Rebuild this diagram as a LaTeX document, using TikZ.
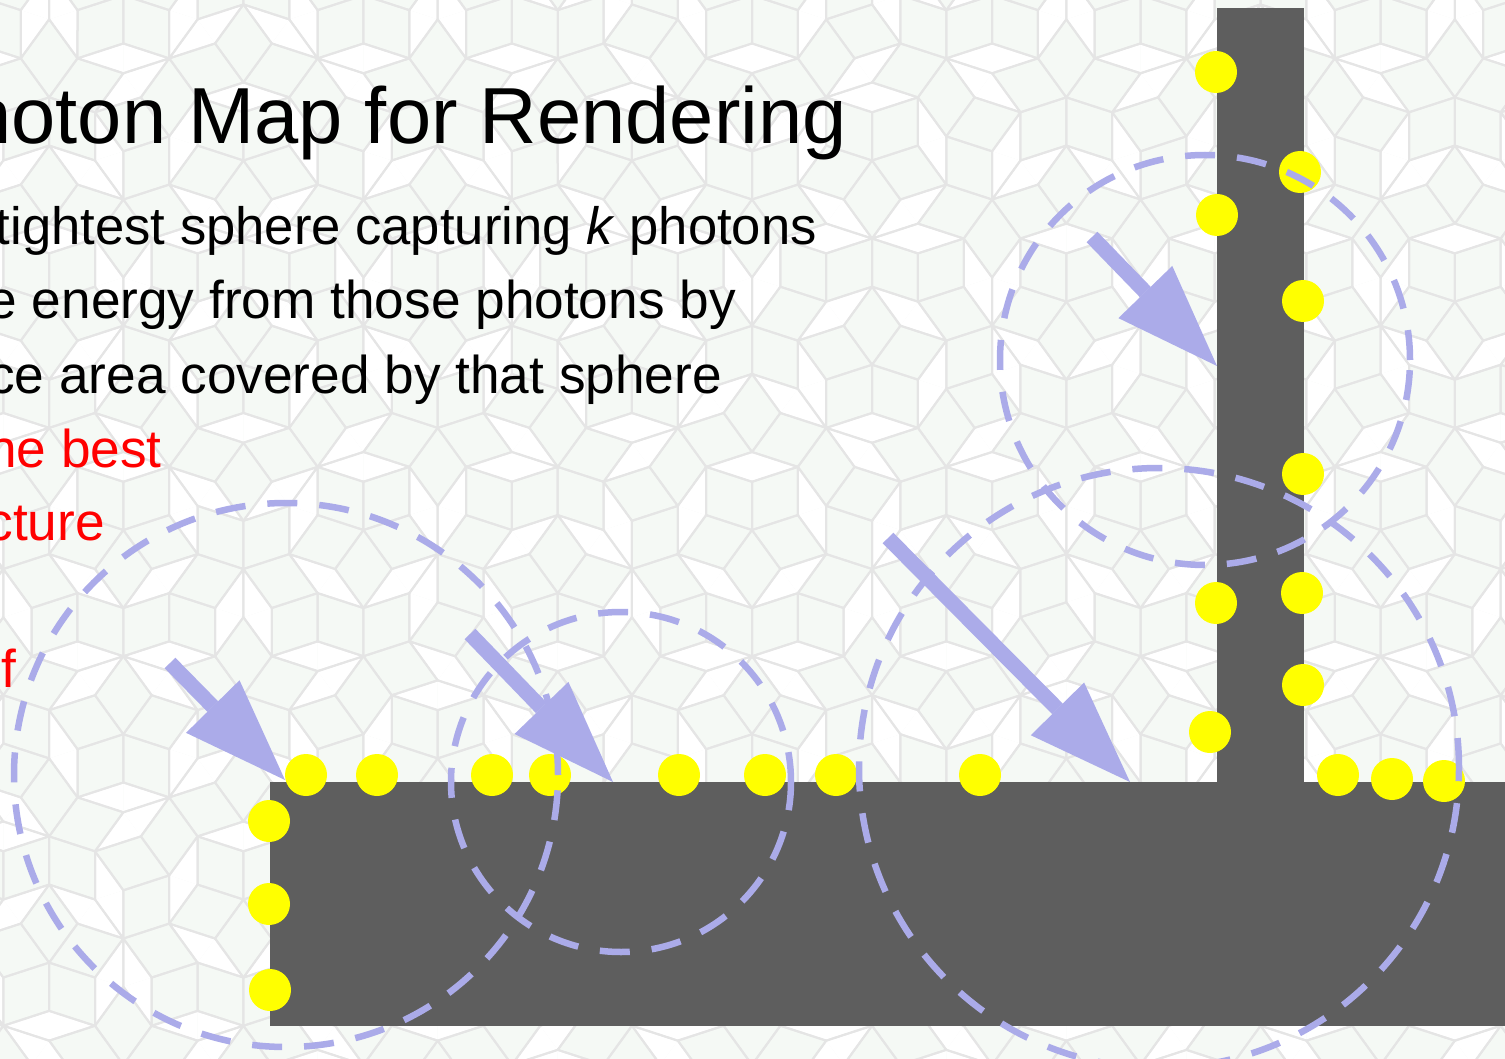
\documentclass[tikz,border=0pt]{standalone}
\usepackage{fontspec}
\setmainfont{Liberation Sans}
\usetikzlibrary{arrows.meta}
\definecolor{bgc}{RGB}{245,249,245}
\definecolor{tilec}{RGB}{229,229,229}
\definecolor{barc}{RGB}{94,94,94}
\definecolor{lav}{RGB}{171,171,233}
\definecolor{dotc}{RGB}{255,255,0}
\definecolor{redc}{RGB}{255,0,0}
\tikzset{
  dot/.style={circle, fill=dotc, minimum size=42pt, inner sep=0pt, draw=none},
  ring/.style={circle, draw=lav, line width=6.5pt, dash pattern=on 30pt off 22pt, inner sep=0pt, fill=none},
  photon/.style={draw=lav, line width=15pt, -{Triangle[length=103pt,width=75pt,line width=0pt]}},
  bartile/.style={fill=barc},
  tileline/.style={draw=tilec, line width=2pt, line join=round},
  thinfill/.style={fill=white},
  titletext/.style={font=\fontsize{79.5}{92}\selectfont, inner sep=0pt, anchor=base east, text=black},
  bodytext/.style={font=\fontsize{53.2}{64}\selectfont, inner sep=0pt, anchor=base east, text=black},
  redtext/.style={bodytext, text=redc}
}
% Penrose (P3) background via Robinson triangles
\newif\ifpenfill
\def\pgr{0.6180339887}
\def\ptri#1#2#3#4#5#6#7#8{%
 \begingroup
 \pgfmathparse{((max(#3,#5,#7))<-10)||((min(#3,#5,#7))>1515)||((max(#4,#6,#8))<-10)||((min(#4,#6,#8))>1069)}%
 \ifdim\pgfmathresult pt>0.5pt\relax\else
  \ifnum#2=0\relax
   \ifpenfill
    \ifnum#1=0\relax \fill[thinfill] (#3,#4)--(#5,#6)--(#7,#8)--cycle;\fi
   \else
    \draw[tileline] (#7,#8)--(#3,#4)--(#5,#6);
   \fi
  \else
   \ifnum#1=0\relax
    \pgfmathsetmacro\Px{(#3)+((#5)-(#3))*\pgr}%
    \pgfmathsetmacro\Py{(#4)+((#6)-(#4))*\pgr}%
    \edef\nxt{\noexpand\ptri{0}{\the\numexpr#2-1\relax}{#7}{#8}{\Px}{\Py}{#5}{#6}%
              \noexpand\ptri{1}{\the\numexpr#2-1\relax}{\Px}{\Py}{#7}{#8}{#3}{#4}}%
   \else
    \pgfmathsetmacro\Qx{(#5)+((#3)-(#5))*\pgr}%
    \pgfmathsetmacro\Qy{(#6)+((#4)-(#6))*\pgr}%
    \pgfmathsetmacro\Rx{(#5)+((#7)-(#5))*\pgr}%
    \pgfmathsetmacro\Ry{(#6)+((#8)-(#6))*\pgr}%
    \edef\nxt{\noexpand\ptri{1}{\the\numexpr#2-1\relax}{\Rx}{\Ry}{#7}{#8}{#3}{#4}%
              \noexpand\ptri{1}{\the\numexpr#2-1\relax}{\Qx}{\Qy}{\Rx}{\Ry}{#5}{#6}%
              \noexpand\ptri{0}{\the\numexpr#2-1\relax}{\Rx}{\Ry}{\Qx}{\Qy}{#3}{#4}}%
   \fi
   \nxt
  \fi
 \fi
 \endgroup}
\def\penwheel{%
 \foreach \k in {0,...,9}{%
   \pgfmathsetmacro\bx{752+1400*cos((2*\k-1)*18)}%
   \pgfmathsetmacro\by{530+1400*sin((2*\k-1)*18)}%
   \pgfmathsetmacro\cxx{752+1400*cos((2*\k+1)*18)}%
   \pgfmathsetmacro\cyy{530+1400*sin((2*\k+1)*18)}%
   \ifodd\k
     \edef\nxt{\noexpand\ptri{0}{7}{752}{530}{\bx}{\by}{\cxx}{\cyy}}%
   \else
     \edef\nxt{\noexpand\ptri{0}{7}{752}{530}{\cxx}{\cyy}{\bx}{\by}}%
   \fi
   \nxt
 }}
\begin{document}
\begin{tikzpicture}[x=1pt,y=-1pt]
\useasboundingbox (0,0) rectangle (1505,1059);
\clip (0,0) rectangle (1505,1059);
\fill[bgc] (0,0) rectangle (1505,1059);
\penfilltrue\penwheel
\penfillfalse\penwheel
% surfaces
\fill[bartile] (270,782) rectangle (1506,1026);
\fill[bartile] (1217,8) rectangle (1304,783);
% photons
\foreach \xx/\yy [count=\i] in {306/775,377/775,492/775,550/775,679/775,765/775,836/775,980/775,
  269/821,269/904,270/990,
  1216/72,1217/215,1216/603,1210/732,
  1300/172,1303/301,1303/474,1302/593,1303/685,
  1338/775,1392/779,1444/781}{
  \node[dot] (d\i) at (\xx,\yy) {};
}
% arrows
\coordinate (a1s) at (170,663); \coordinate (a1e) at (285,780);
\coordinate (a2s) at (470,634); \coordinate (a2e) at (613,782);
\coordinate (a3s) at (888,538); \coordinate (a3e) at (1130,782);
\coordinate (a4s) at (1092,237); \coordinate (a4e) at (1217,366);
\draw[photon] (a1s) -- (a1e);
\draw[photon] (a2s) -- (a2e);
\draw[photon] (a3s) -- (a3e);
\draw[photon] (a4s) -- (a4e);
% spheres
\node[ring, minimum size=544pt] (s1) at (286,775) {};
\node[ring, minimum size=340pt] (s2) at (621,782) {};
\node[ring, minimum size=600pt] (s3) at (1159,768) {};
\node[ring, minimum size=410pt] (s4) at (1205,360) {};
% text
\node[titletext] (title) at (847,144) {hoton Map for Rendering};
\node[bodytext, font=\fontsize{52.6}{64}\selectfont] (l1) at (817,245) {tightest sphere capturing \textit{k} photons};
\node[bodytext] (l2) at (736,319) {e energy from those photons by};
\node[bodytext] (l3) at (722,393) {ce area covered by that sphere};
\node[redtext] (l4) at (162,467) {he best};
\node[redtext] (l5) at (105,540) {cture};
\node[redtext] (l6) at (16,687) {f};
\end{tikzpicture}
\end{document}
